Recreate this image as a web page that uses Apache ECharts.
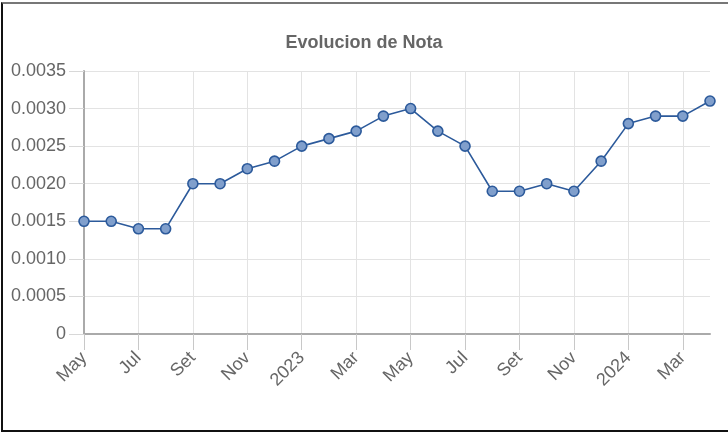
<!DOCTYPE html>
<html>
<head>
<meta charset="utf-8">
<script src="https://cdn.jsdelivr.net/npm/echarts@6/dist/echarts.min.js"></script>
<style>
html,body{margin:0;padding:0;background:#fff;}
#chart{position:absolute;left:0;top:0;width:728px;height:434px;}
#frame{position:absolute;left:1px;top:2px;width:727px;height:430px;box-sizing:border-box;border-top:2px solid #777;border-left:2px solid #111;border-bottom:2px solid #111;pointer-events:none;}
</style>
</head>
<body>
<div id="chart"></div>
<div id="frame"></div>
<script>
const titleText = 'Evolucion de Nota';
const months = ['May','Jun','Jul','Ago','Set','Oct','Nov','Dic','2023','Feb','Mar','Abr',
                'May','Jun','Jul','Ago','Set','Oct','Nov','Dic','2024','Feb','Mar','Abr'];
const nota = [0.0015,0.0015,0.0014,0.0014,0.0020,0.0020,0.0022,0.0023,0.0025,0.0026,0.0027,0.0029,
              0.0030,0.0027,0.0025,0.0019,0.0019,0.0020,0.0019,0.0023,0.0028,0.0029,0.0029,0.0031];
const yMin = 0, yMax = 0.0035, yStep = 0.0005;

const font = 'Liberation Sans, Arial, Helvetica, sans-serif';
const chart = echarts.init(document.getElementById('chart'), null, {renderer:'canvas'});
chart.setOption({
  animation:false,
  backgroundColor:'#fff',
  title:{
    text:titleText, left:'center', top:34, padding:0,
    textStyle:{fontFamily:font, fontSize:18, fontWeight:'bold', color:'#666'}
  },
  grid:{left:84, right:18, top:71, bottom:100, containLabel:false},
  xAxis:{
    type:'category', data:months, boundaryGap:false,
    axisLine:{show:true, lineStyle:{color:'#aaa', width:2}},
    axisTick:{show:true, interval:1, length:16, lineStyle:{color:'#c8c8c8', width:1}},
    axisLabel:{interval:1, rotate:45, margin:21, fontFamily:font, fontSize:18, color:'#666'},
    splitLine:{show:true, interval:1, lineStyle:{color:'#e3e3e3'}}
  },
  yAxis:{
    type:'value', min:yMin, max:yMax, interval:yStep,
    axisLine:{show:true, lineStyle:{color:'#aaa', width:2}},
    axisTick:{show:true, length:15, lineStyle:{color:'#d8d8d8', width:1}},
    axisLabel:{margin:18, fontFamily:font, fontSize:18, color:'#666',
      formatter:v => v === 0 ? '0' : v.toFixed(4)},
    splitLine:{show:true, lineStyle:{color:'#e3e3e3'}}
  },
  series:[{
    type:'line', data:nota,
    symbol:'circle', symbolSize:10, showAllSymbol:true,
    lineStyle:{color:'#2c5a9b', width:1.6},
    itemStyle:{color:'#809fcc', borderColor:'#2c5a9b', borderWidth:1.6}
  }]
});
</script>
</body>
</html>
